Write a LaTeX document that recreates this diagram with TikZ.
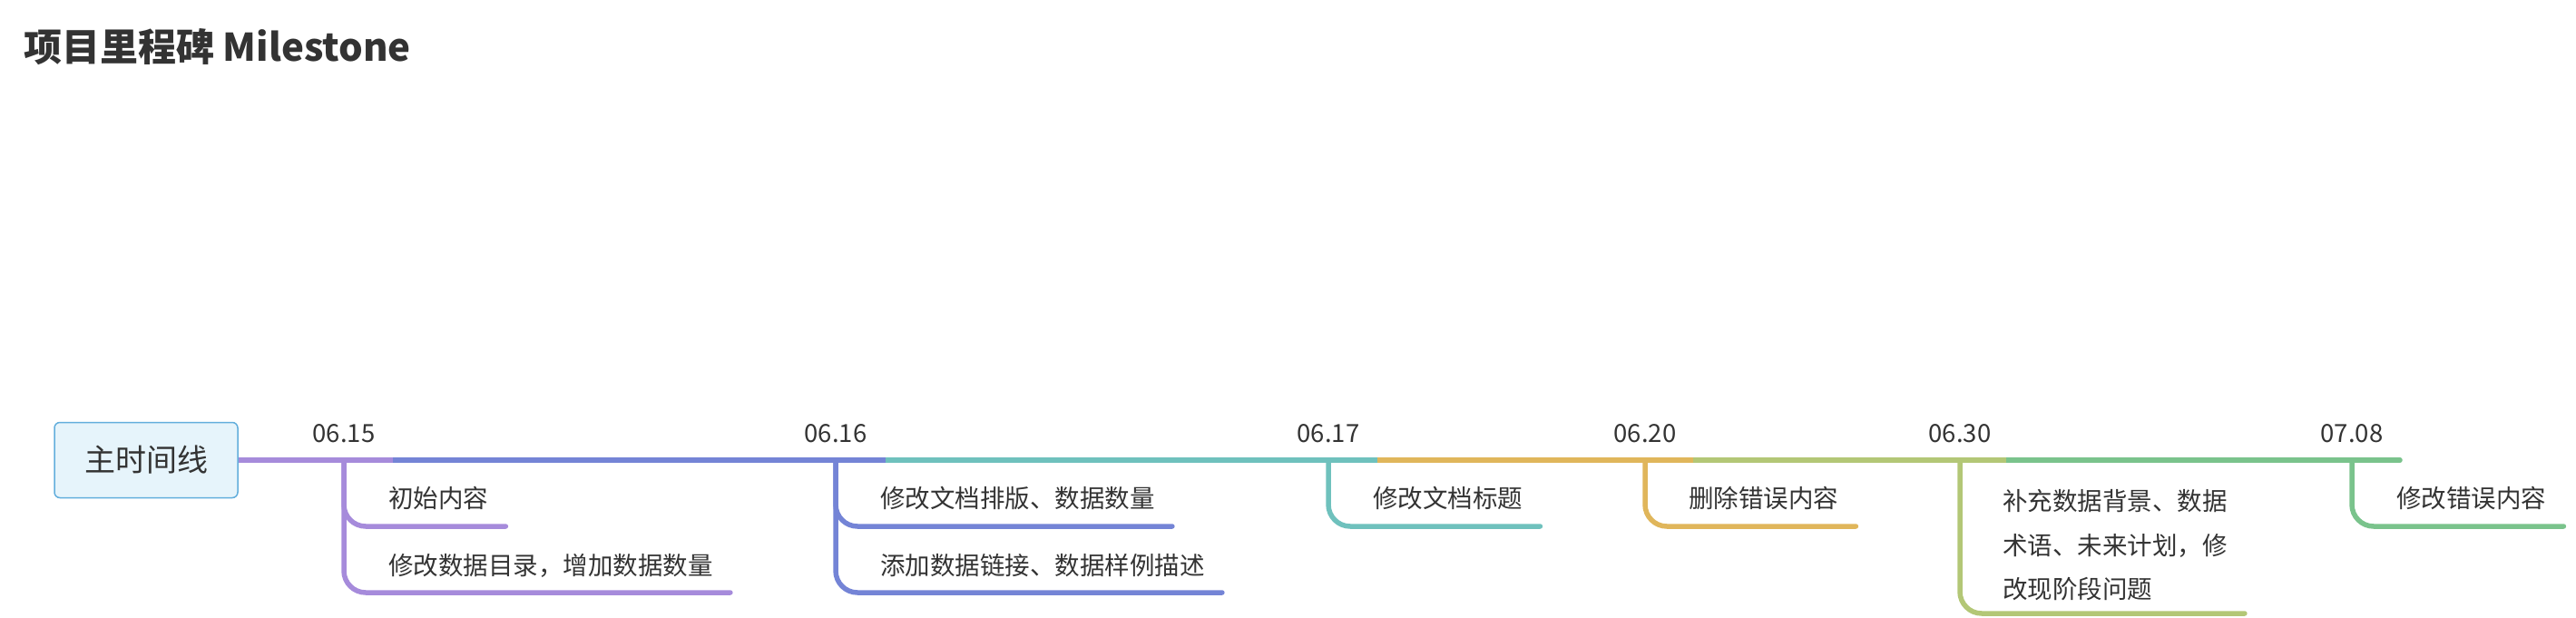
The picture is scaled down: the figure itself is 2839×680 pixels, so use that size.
\documentclass[tikz,border=0pt]{standalone}
\usepackage{fontspec}
\setmainfont{Noto Sans CJK SC}
\definecolor{txt}{HTML}{333333}
\definecolor{cpur}{HTML}{A68BDB}
\definecolor{cblu}{HTML}{7484D6}
\definecolor{ctea}{HTML}{6FC1BD}
\definecolor{cgol}{HTML}{E0B65B}
\definecolor{cyel}{HTML}{B3C776}
\definecolor{cgrn}{HTML}{7AC38C}
\definecolor{boxf}{HTML}{E6F4FB}
\definecolor{boxb}{HTML}{62AEDC}
\begin{document}
\begin{tikzpicture}[x=1pt,y=-1pt,
  lbl/.style={font=\fontsize{27.5}{32}\selectfont, text=txt, inner sep=0pt},
  datelbl/.style={lbl, anchor=base},
  item/.style={lbl, anchor=west},
  brline/.style={line width=5.5pt, line cap=round, rounded corners=24pt},
  segline/.style={line width=5.5pt},
]
\useasboundingbox (0,0) rectangle (2839,680);
\node[anchor=base west, font=\fontsize{42}{48}\selectfont\bfseries, text=txt, inner sep=0pt] (title) at (26,67) {项目里程碑 Milestone};
\node[draw=boxb, fill=boxf, line width=1.5pt, rounded corners=6pt, minimum width=202pt, minimum height=83pt, inner sep=0pt, font=\fontsize{34}{40}\selectfont, text=txt] (main) at (161,507) {主时间线};

% rows
\coordinate (r1) at (0,580);
\coordinate (r2) at (0,653);
\coordinate (r3) at (0,676);

% branch points
\coordinate (d1) at (379,507);
\coordinate (d2) at (921,507);
\coordinate (d3) at (1464,507);
\coordinate (d4) at (1813,507);
\coordinate (d5) at (2160,507);
\coordinate (d6) at (2592,507);

% segment ends
\coordinate (s1) at (433,507);
\coordinate (s2) at (976,507);
\coordinate (s3) at (1518,507);
\coordinate (s4) at (1866,507);
\coordinate (s5) at (2211,507);
\coordinate (s6) at (2645,507);

% date labels
\node[datelbl] (l1) at (379,487) {06.15};
\node[datelbl] (l2) at (921,487) {06.16};
\node[datelbl] (l3) at (1464,487) {06.17};
\node[datelbl] (l4) at (1813,487) {06.20};
\node[datelbl] (l5) at (2160,487) {06.30};
\node[datelbl] (l6) at (2592,487) {07.08};

% child texts
\node[item] (c11) at (428,549) {初始内容};
\node[item] (c12) at (428,623) {修改数据目录，增加数据数量};
\node[item] (c21) at (970,549) {修改文档排版、数据数量};
\node[item] (c22) at (970,623) {添加数据链接、数据样例描述};
\node[item] (c31) at (1513,549) {修改文档标题};
\node[item] (c41) at (1861,549) {删除错误内容};
\node[item, align=left, font=\fontsize{27.5}{48.5}\selectfont] (c51) at (2207,601) {补充数据背景、数据\\术语、未来计划，修\\改现阶段问题};
\node[item] (c61) at (2641,549) {修改错误内容};

% underline ends
\coordinate (e11) at ([xshift=19pt]c11.east |- r1);
\coordinate (e12) at ([xshift=19pt]c12.east |- r2);
\coordinate (e21) at ([xshift=19pt]c21.east |- r1);
\coordinate (e22) at ([xshift=19pt]c22.east |- r2);
\coordinate (e31) at ([xshift=19pt]c31.east |- r1);
\coordinate (e41) at ([xshift=19pt]c41.east |- r1);
\coordinate (e51) at ([xshift=19pt]c51.east |- r3);
\coordinate (e61) at ([xshift=19pt]c61.east |- r1);

% branches
\draw[brline, cpur] (d1) |- (e11);
\draw[brline, cpur] (d1) |- (e12);
\draw[brline, cblu] (d2) |- (e21);
\draw[brline, cblu] (d2) |- (e22);
\draw[brline, ctea] (d3) |- (e31);
\draw[brline, cgol] (d4) |- (e41);
\draw[brline, cyel] (d5) |- (e51);
\draw[brline, cgrn] (d6) |- (e61);

% main timeline
\draw[segline, cgrn, line cap=round] (s5) -- (s6);
\draw[segline, cpur] (main.east) -- (s1);
\draw[segline, cblu] (s1) -- (s2);
\draw[segline, ctea] (s2) -- (s3);
\draw[segline, cgol] (s3) -- (s4);
\draw[segline, cyel] (s4) -- (s5);
\end{tikzpicture}
\end{document}
